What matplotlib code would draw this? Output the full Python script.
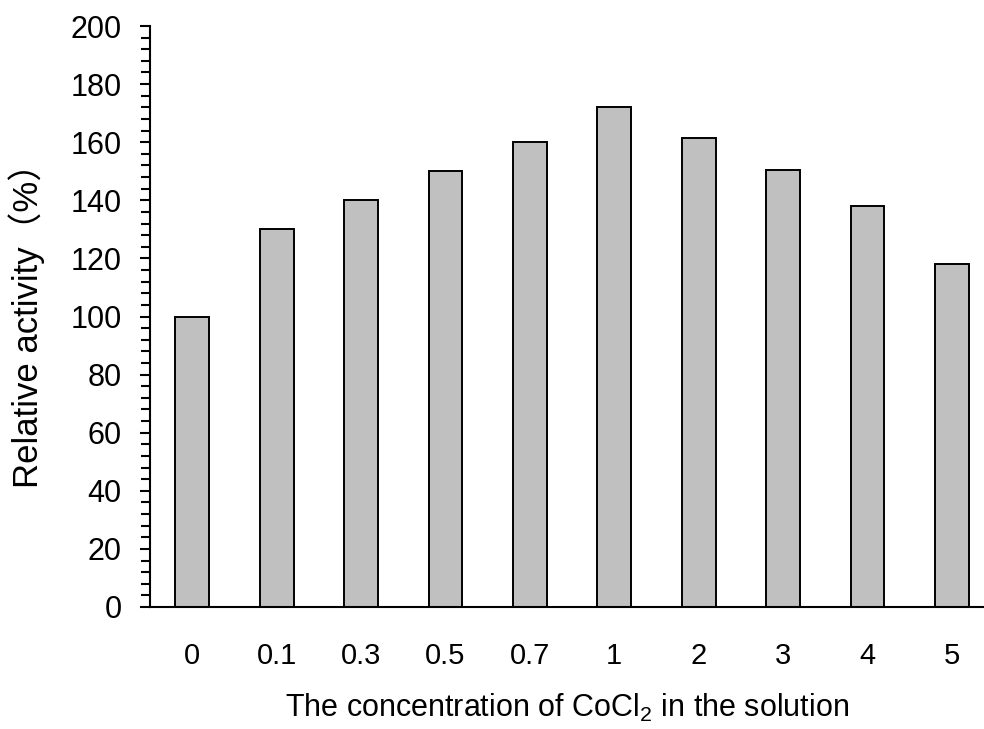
import matplotlib
matplotlib.use("Agg")
import matplotlib.pyplot as plt
from matplotlib.ticker import MultipleLocator

plt.rcParams['font.family'] = ['Liberation Sans', 'Noto Sans CJK SC', 'DejaVu Sans']
plt.rcParams['mathtext.fontset'] = 'custom'
plt.rcParams['mathtext.rm'] = 'Liberation Sans'
plt.rcParams['mathtext.default'] = 'regular'

# CoCl2 concentration levels and relative enzyme activity (%)
concentrations = ['0', '0.1', '0.3', '0.5', '0.7', '1', '2', '3', '4', '5']
relative_activity = [100, 130, 140, 150, 160, 172, 161.5, 150.5, 138, 118]

fig = plt.figure(figsize=(9.84, 7.29), dpi=100)
ax = fig.add_axes([150 / 984, 122 / 729, 834 / 984, 581 / 729])

x = list(range(len(concentrations)))
ax.bar(x, relative_activity, width=0.40, color='#C0C0C0',
       edgecolor='black', linewidth=1.4, zorder=2)

ax.set_xlim(-0.5, 9.38)
ax.set_ylim(0, 200)
ax.set_xticks(x)
ax.set_xticklabels(concentrations)
ax.yaxis.set_major_locator(MultipleLocator(20))
ax.yaxis.set_minor_locator(MultipleLocator(4))

for side in ('top', 'right'):
    ax.spines[side].set_visible(False)
for side in ('left', 'bottom'):
    ax.spines[side].set_linewidth(1.5)

ax.tick_params(axis='x', length=0, pad=25, labelsize=21)
ax.tick_params(axis='y', which='major', length=7.5, width=1.5,
               direction='out', pad=13, labelsize=22)
ax.tick_params(axis='y', which='minor', length=6.5, width=1.5,
               direction='out')

ax.set_ylabel('Relative activity（%）', fontsize=25, labelpad=18)
ax.set_xlabel('The concentration of CoCl$_2$ in the solution',
              fontsize=22, labelpad=16)

fig.savefig('out.png', dpi=100)
